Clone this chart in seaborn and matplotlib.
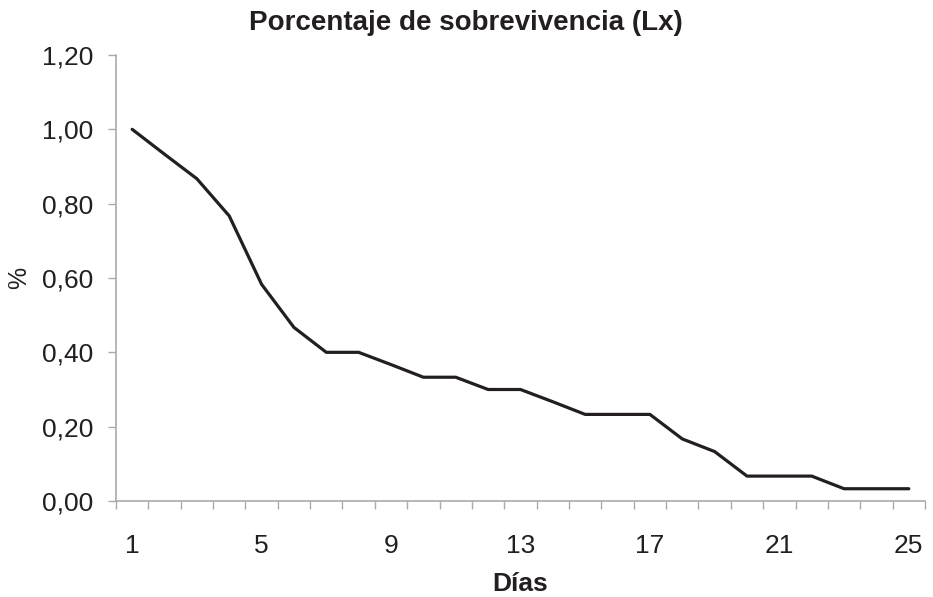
import matplotlib
matplotlib.use("Agg")
import matplotlib.pyplot as plt
import seaborn as sns
import pandas as pd
import numpy as np
from matplotlib.ticker import FixedLocator, FuncFormatter

dias = list(range(1, 26))
lx = [1.000, 0.933, 0.867, 0.767, 0.583, 0.467, 0.400, 0.400, 0.367, 0.333,
      0.333, 0.300, 0.300, 0.267, 0.233, 0.233, 0.233, 0.167, 0.133, 0.067,
      0.067, 0.067, 0.033, 0.033, 0.033]
xticklabels = [1, 5, 9, 13, 17, 21, 25]
yticks = [0.0, 0.2, 0.4, 0.6, 0.8, 1.0, 1.2]

sns.set_theme(style="white")
plt.rcParams['font.family'] = ['Liberation Sans', 'DejaVu Sans']

df = pd.DataFrame({"Días": dias, "Lx": lx})

fig = plt.figure(figsize=(9.33, 5.97), dpi=100)
ax = fig.add_axes([0.1243, 0.1608, 0.8671, 0.7471])
sns.lineplot(data=df, x="Días", y="Lx", ax=ax, color="#231f20", linewidth=2.3)

ax.set_xlim(0.5, 25.5)
ax.set_ylim(0, 1.2)
ax.set_yticks(yticks)
ax.yaxis.set_major_formatter(FuncFormatter(lambda v, p: f"{v:.2f}".replace(".", ",")))
ax.set_xticks(xticklabels)
ax.set_xticklabels([str(v) for v in xticklabels])
ax.xaxis.set_minor_locator(FixedLocator(np.arange(0.5, 26, 1.0)))
ax.tick_params(axis="x", which="major", length=0, labelsize=19, pad=24, colors="#231f20")
ax.tick_params(axis="x", which="minor", length=6, width=1, color="#aaaaaa", direction="out", bottom=True)
ax.tick_params(axis="y", which="major", length=6, width=1, color="#aaaaaa", labelsize=19,
               pad=10, labelcolor="#231f20", left=True, direction="out")

for s in ["top", "right"]:
    ax.spines[s].set_visible(False)
for s in ["left", "bottom"]:
    ax.spines[s].set_color("#aaaaaa")
    ax.spines[s].set_linewidth(1.2)

ax.set_xlabel("Días", fontsize=19, fontweight="bold", color="#231f20", labelpad=10)
ax.set_ylabel("%", fontsize=18, color="#231f20", labelpad=8)
fig.text(0.499, 0.962, "Porcentaje de sobrevivencia (Lx)", fontsize=20, fontweight="bold",
         color="#231f20", ha="center", va="center")

fig.savefig("out.png", dpi=100)
